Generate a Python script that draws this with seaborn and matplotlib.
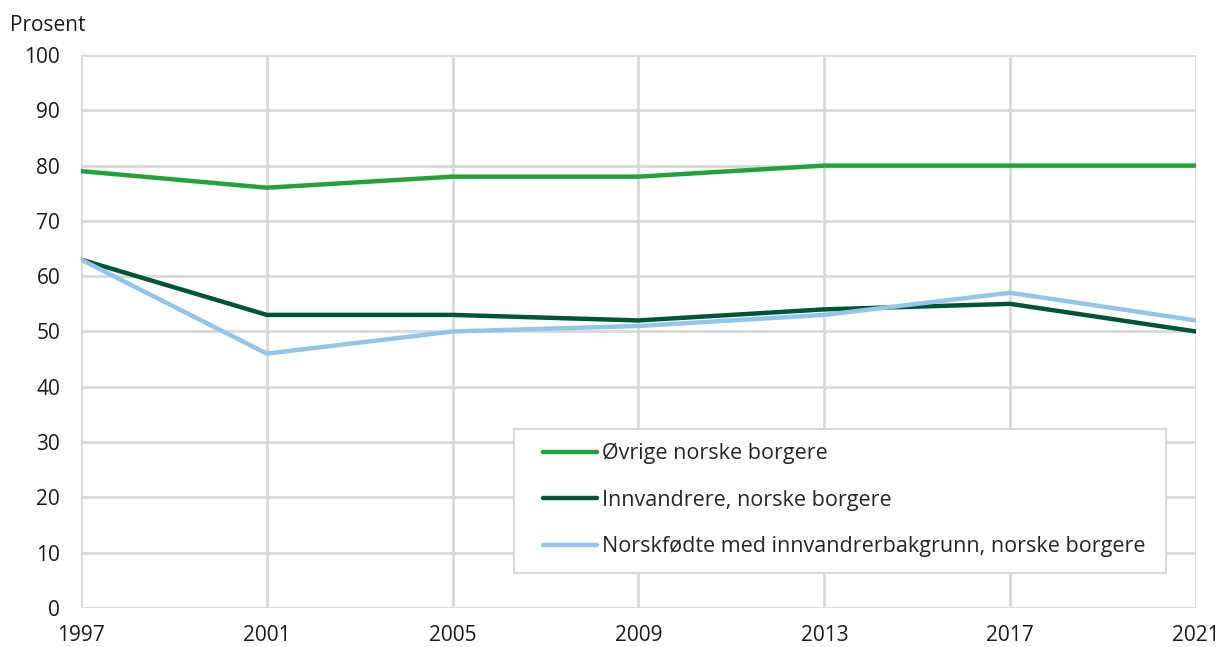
import pandas as pd
import seaborn as sns
import matplotlib.pyplot as plt
from matplotlib.patches import Rectangle

years = [1997, 2001, 2005, 2009, 2013, 2017, 2021]
ovrige = [79, 76, 78, 78, 80, 80, 80]
innvandrere = [63, 53, 53, 52, 54, 55, 50]
norskfodte = [63, 46, 50, 51, 53, 57, 52]

labels = ["Øvrige norske borgere",
          "Innvandrere, norske borgere",
          "Norskfødte med innvandrerbakgrunn, norske borgere"]
colors = ["#22a33a", "#005538", "#93c5eb"]

df = pd.DataFrame({
    "year": years * 3,
    "value": ovrige + innvandrere + norskfodte,
    "group": [labels[0]] * 7 + [labels[1]] * 7 + [labels[2]] * 7,
})

sns.set_theme(style="white")
plt.rcParams["font.family"] = ["Open Sans", "DejaVu Sans"]

fig = plt.figure(figsize=(12.2, 6.47), dpi=100)
ax = fig.add_axes([0.0664, 0.0603, 0.9139, 0.8547])

sns.lineplot(data=df, x="year", y="value", hue="group", hue_order=labels,
             palette=colors, linewidth=3.2, ax=ax, legend=True)

ax.set_xlim(1997, 2021)
ax.set_ylim(0, 100)
ax.set_xticks(years)
ax.set_yticks(range(0, 101, 10))
ax.tick_params(labelsize=15, length=0, colors="#1a1a1a")
ax.tick_params(axis="x", pad=12)
ax.tick_params(axis="y", pad=15)
ax.grid(True, color="#d9d9d9", linewidth=2)
ax.set_axisbelow(True)
for s in ax.spines.values():
    s.set_visible(False)
ax.set_xlabel("")
ax.set_ylabel("")

fig.text(0.008, 0.961, "Prosent", fontsize=15, color="#1a1a1a", va="center")

# legend box drawn separately so the side padding can differ from top/bottom
ax.add_patch(Rectangle((0.3883, 0.0633), 0.5848, 0.2604, transform=ax.transAxes,
                       facecolor="white", edgecolor="#d9d9d9", linewidth=1.5,
                       zorder=5))
leg = ax.legend(loc="center left", bbox_to_anchor=(0.4143, 0.1953),
                fontsize=15.5, frameon=False, handlelength=2.5,
                handletextpad=0.23, labelspacing=1.19, borderpad=0,
                borderaxespad=0, title=None)
leg.set_zorder(6)
for line in leg.get_lines():
    line.set_linewidth(3.2)

fig.savefig("out.png", dpi=100)
